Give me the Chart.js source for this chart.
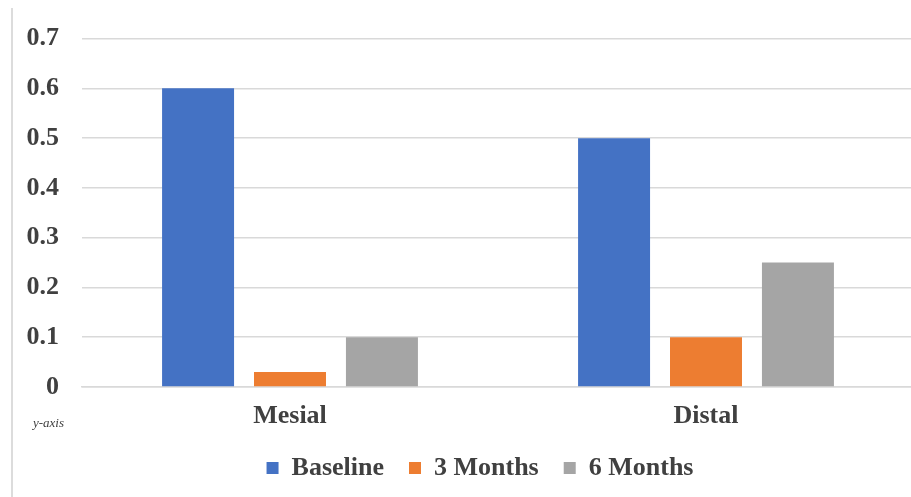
<!DOCTYPE html>
<html>
<head>
<meta charset="utf-8">
<script src="https://cdn.jsdelivr.net/npm/chart.js@4.4.0/dist/chart.umd.min.js"></script>
<style>
  html, body { margin: 0; padding: 0; background: #fff; overflow: hidden; }
  #wrap { position: relative; width: 915px; height: 497px; }
  #border { position: absolute; left: 11px; top: 8px; width: 2px; height: 489px; background: #dcdcdc; }
  canvas { position: absolute; left: 0; top: 0; }
</style>
</head>
<body>
<div id="wrap">
  <div id="border"></div>
  <canvas id="c" width="915" height="497"></canvas>
</div>
<script>
const categories = ["Mesial", "Distal"];
const seriesNames = ["Baseline", "3 Months", "6 Months"];
const baseline = [0.6, 0.5];
const months3 = [0.03, 0.1];
const months6 = [0.1, 0.25];
const yTicks = [0, 0.1, 0.2, 0.3, 0.4, 0.5, 0.6, 0.7];
const axisNote = "y-axis";
const colors = ["#4472C4", "#ED7D31", "#A5A5A5"];

const textColor = "#404040";
const serif = "Liberation Serif";

const extras = {
  id: "extras",
  afterLayout(chart) {
    const lg = chart.legend;
    if (lg) { lg.left += 23; lg.right += 23; }
  },
  afterDraw(chart) {
    const ctx = chart.ctx;
    ctx.save();
    ctx.font = "italic 13px Liberation Serif";
    ctx.fillStyle = textColor;
    ctx.textBaseline = "alphabetic";
    ctx.textAlign = "left";
    ctx.fillText(axisNote, 33, 427);
    ctx.restore();
  }
};

new Chart(document.getElementById("c"), {
  type: "bar",
  data: {
    labels: categories,
    datasets: [baseline, months3, months6].map((d, i) => ({
      label: seriesNames[i],
      data: d,
      backgroundColor: colors[i],
      borderWidth: 0,
      categoryPercentage: 0.663,
      barPercentage: 0.783
    }))
  },
  options: {
    responsive: false,
    animation: false,
    layout: { padding: { top: 38, right: 1, bottom: 6, left: 0 } },
    plugins: {
      tooltip: { enabled: false },
      legend: {
        position: "bottom",
        labels: {
          color: textColor,
          font: { family: serif, size: 26, weight: "bold" },
          boxWidth: 12,
          boxHeight: 12,
          padding: 25
        }
      }
    },
    scales: {
      x: {
        grid: { display: false, drawTicks: false },
        border: { display: true, color: "#d9d9d9", width: 1.5 },
        ticks: {
          color: textColor,
          font: { family: serif, size: 26, weight: "bold" },
          padding: 14
        },
        afterFit: (s) => { s.height = 43; }
      },
      y: {
        min: 0,
        max: 0.7,
        afterBuildTicks: (s) => { s.ticks = yTicks.map(v => ({ value: v })); },
        grid: { color: "#d9d9d9", lineWidth: 1.5, drawTicks: false },
        border: { display: false },
        ticks: {
          color: textColor,
          font: { family: serif, size: 26, weight: "bold" },
          padding: 23,
          callback: (v) => String(v)
        },
        afterFit: (s) => { s.width = 82; }
      }
    }
  },
  plugins: [extras]
});
</script>
</body>
</html>
